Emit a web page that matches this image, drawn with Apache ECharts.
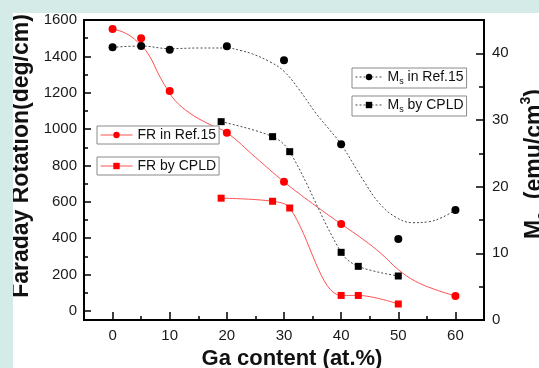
<!DOCTYPE html>
<html>
<head>
<meta charset="utf-8">
<script src="https://cdn.jsdelivr.net/npm/echarts@6/dist/echarts.min.js"></script>
<style>
html,body{margin:0;padding:0;width:539px;height:368px;overflow:hidden;background:#d4ebe7;}
#c{position:absolute;left:13px;top:13px;width:526px;height:355px;background:#fff;}
</style>
</head>
<body>
<div id="c"></div>
<script>
// ---- data ----
const xTicks = [0, 10, 20, 30, 40, 50, 60];
const xMinorTicks = [5, 15, 25, 35, 45, 55];
const leftTicks = [0, 200, 400, 600, 800, 1000, 1200, 1400, 1600];
const leftMinorTicks = [100, 300, 500, 700, 900, 1100, 1300, 1500];
const rightTicks = [0, 10, 20, 30, 40];
const rightMinorTicks = [5, 15, 25, 35];

// FR in Ref.15 (markers) and its fitted curve
const frRefX = [0, 5, 10, 20, 30, 40, 60];
const frRefY = [1550, 1500, 1210, 980, 710, 478, 82];
const frRefFit = [[0,1550],[2.5,1524],[5,1460],[6.5,1400],[8,1305],[9.5,1222],[11,1155],[13.5,1088],[16.5,1033],[20,980],[25,845],[30,710],[35,590],[40,478],[44,390],[47,315],[50,227],[53,163],[56.5,117],[60,82]];

// FR by CPLD
const frCpldX = [19, 28, 31, 40, 43, 50];
const frCpldY = [620, 603, 566, 85, 85, 38];

// Ms in Ref.15 (markers) and its fitted curve
const msRefX = [0, 5, 10, 20, 30, 40, 50, 60];
const msRefY = [40.9, 41.1, 40.55, 41.05, 38.95, 26.35, 12.15, 16.5];
const msRefFit = [[0,40.9],[5,41.1],[10,40.7],[15,40.8],[20,40.8],[22.5,40.4],[24.5,39.9],[27.5,38.75],[30,37.3],[32.7,34.5],[35.6,31],[38,28.5],[40,26.35],[44,20.8],[46.7,17.5],[49.6,15.4],[52.5,14.6],[55.4,14.75],[57.7,15.4],[60,16.5]];

// Ms by CPLD
const msCpldX = [19, 28, 31, 40, 43, 50];
const msCpldY = [29.75, 27.5, 25.25, 10.15, 8.05, 6.6];

const pair = (xs, ys) => xs.map((x, i) => [x, ys[i]]);

const FONT = 'Liberation Sans, Arial, sans-serif';
const RED = '#ff0000', RED_LINE = '#ff5252', BLACK = '#000000', DASH = '#4a4a4a';

const chart = echarts.init(document.getElementById('c'), null, {renderer: 'canvas'});

const labelStyle = {fontFamily: FONT, fontSize: 15, color: '#1a1a1a', formatter: v => String(v)};
const axisLineStyle = {show: true, onZero: false, lineStyle: {color: '#000', width: 2}};

function legendBox(name, left, top, rich, fmt, lineStyle, iconW) {
  return {
    show: true, left: left, top: top, orient: 'horizontal',
    data: [{name: name, lineStyle: lineStyle}],
    itemWidth: iconW, itemHeight: 8,
    padding: [2, 3, 2, 3],
    borderColor: '#8a8a8a', borderWidth: 1, borderRadius: 0,
    backgroundColor: '#fff',
    selectedMode: false,
    textStyle: {fontFamily: FONT, fontSize: 14, color: '#111', rich: rich},
    formatter: fmt
  };
}

const msRich = {
  m: {fontFamily: FONT, fontSize: 14, color: '#111', lineHeight: 18},
  s: {fontFamily: FONT, fontSize: 9, color: '#111', lineHeight: 9, verticalAlign: 'bottom'}
};

const option = {
  animation: false,
  backgroundColor: '#fff',
  grid: {left: 71, top: 7, width: 400, height: 300, show: true, borderColor: '#000', borderWidth: 2, backgroundColor: 'transparent', containLabel: false, outerBoundsMode: 'none'},
  legend: [
    legendBox('FR in Ref.15', 84, 113, undefined, undefined, {width: 1, color: RED_LINE, type: 'solid', opacity: 1}, 32),
    legendBox('FR by CPLD', 84, 144, undefined, undefined, {width: 1, color: RED_LINE, type: 'solid', opacity: 1}, 32),
    legendBox('Ms in Ref.15', 339, 55, msRich, function () { return '{m|M}{s|s}{m| in Ref.15}'; }, {width: 1, color: DASH, type: [2, 2], opacity: 1}, 27),
    legendBox('Ms by CPLD', 339, 83, msRich, function () { return '{m|M}{s|s}{m| by CPLD}'; }, {width: 1, color: DASH, type: [2, 2], opacity: 1}, 27)
  ],
  xAxis: [
    {
      type: 'value', min: -5, max: 65, position: 'bottom',
      axisLine: axisLineStyle,
      axisTick: {show: true, inside: true, length: 8, lineStyle: {color: '#000', width: 1.5}, customValues: xTicks},
      axisLabel: Object.assign({margin: 8, customValues: xTicks}, labelStyle),
      splitLine: {show: false},
      name: 'Ga content (at.%)', nameLocation: 'middle', nameGap: 25,
      nameTextStyle: {fontFamily: FONT, fontSize: 22, fontWeight: 'bold', color: '#111', padding: [0, 0, 0, 16]}
    },
    {
      type: 'value', min: -5, max: 65, position: 'bottom',
      axisLine: {show: false, onZero: false},
      axisTick: {show: true, inside: true, length: 4, lineStyle: {color: '#000', width: 1.5}, customValues: xMinorTicks},
      axisLabel: {show: false},
      splitLine: {show: false}
    }
  ],
  yAxis: [
    {
      type: 'value', min: -50, max: 1600, position: 'left',
      axisLine: axisLineStyle,
      axisTick: {show: true, inside: true, length: 7, lineStyle: {color: '#000', width: 1.5}, customValues: leftTicks},
      axisLabel: Object.assign({margin: 7, customValues: leftTicks}, labelStyle),
      splitLine: {show: false},
      name: 'Faraday Rotation(deg/cm)', nameLocation: 'middle', nameGap: 45, nameRotate: 90,
      nameTextStyle: {fontFamily: FONT, fontSize: 23, fontWeight: 'bold', color: '#111', padding: [0, 0, 0, 28]}
    },
    {
      type: 'value', min: -50, max: 1600, position: 'left',
      axisLine: {show: false, onZero: false},
      axisTick: {show: true, inside: true, length: 4, lineStyle: {color: '#000', width: 1.5}, customValues: leftMinorTicks},
      axisLabel: {show: false},
      splitLine: {show: false}
    },
    {
      type: 'value', min: 0, max: 45, position: 'right',
      axisLine: axisLineStyle,
      axisTick: {show: true, inside: true, length: 8, lineStyle: {color: '#000', width: 1.5}, customValues: rightTicks},
      axisLabel: Object.assign({margin: 8, customValues: rightTicks}, labelStyle),
      splitLine: {show: false},
      name: '{t|M}{s|s}{t|  (emu/cm}{p|3}{t|)}', nameLocation: 'middle', nameGap: 34, nameRotate: 90,
      nameTextStyle: {
        fontFamily: FONT, fontSize: 23, fontWeight: 'bold', color: '#111', padding: [0, 0, 0, 12],
        rich: {
          t: {fontFamily: FONT, fontSize: 23, fontWeight: 'bold', color: '#111', lineHeight: 30},
          s: {fontFamily: FONT, fontSize: 14, fontWeight: 'bold', color: '#111', lineHeight: 14, verticalAlign: 'bottom'},
          p: {fontFamily: FONT, fontSize: 14, fontWeight: 'bold', color: '#111', lineHeight: 14, verticalAlign: 'top'}
        }
      }
    },
    {
      type: 'value', min: 0, max: 45, position: 'right',
      axisLine: {show: false, onZero: false},
      axisTick: {show: true, inside: true, length: 5, lineStyle: {color: '#000', width: 1.5}, customValues: rightMinorTicks},
      axisLabel: {show: false},
      splitLine: {show: false}
    }
  ],
  series: [
    {
      name: 'frRefFit', type: 'line', xAxisIndex: 0, yAxisIndex: 0, data: frRefFit, smooth: 0.4,
      symbol: 'none', lineStyle: {color: RED_LINE, width: 1}, z: 2, silent: true
    },
    {
      name: 'msRefFit', type: 'line', xAxisIndex: 0, yAxisIndex: 2, data: msRefFit, smooth: 0.4,
      symbol: 'none', lineStyle: {color: DASH, width: 1, type: [2, 2]}, z: 2, silent: true
    },
    {
      name: 'FR in Ref.15', type: 'line', xAxisIndex: 0, yAxisIndex: 0, data: pair(frRefX, frRefY),
      symbol: 'circle', symbolSize: 8, showAllSymbol: true,
      itemStyle: {color: RED}, lineStyle: {width: 0, opacity: 0}, z: 4
    },
    {
      name: 'Ms in Ref.15', type: 'line', xAxisIndex: 0, yAxisIndex: 2, data: pair(msRefX, msRefY),
      symbol: 'circle', symbolSize: 8, showAllSymbol: true,
      itemStyle: {color: BLACK}, lineStyle: {width: 0, opacity: 0}, z: 4
    },
    {
      name: 'FR by CPLD', type: 'line', xAxisIndex: 0, yAxisIndex: 0, data: pair(frCpldX, frCpldY),
      smooth: 0.35, symbol: 'rect', symbolSize: 7, showAllSymbol: true,
      itemStyle: {color: RED}, lineStyle: {color: RED_LINE, width: 1}, z: 3
    },
    {
      name: 'Ms by CPLD', type: 'line', xAxisIndex: 0, yAxisIndex: 2, data: pair(msCpldX, msCpldY),
      smooth: 0.35, symbol: 'rect', symbolSize: 7, showAllSymbol: true,
      itemStyle: {color: BLACK}, lineStyle: {color: DASH, width: 1, type: [2, 2]}, z: 3
    }
  ]
};

chart.setOption(option);
</script>
</body>
</html>
